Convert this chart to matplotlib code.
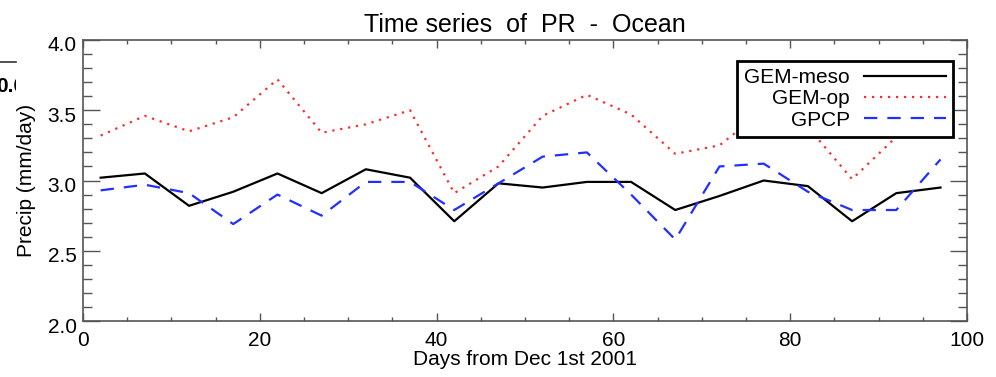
import numpy as np
import matplotlib
matplotlib.use("Agg")
import matplotlib.pyplot as plt
from matplotlib.transforms import ScaledTranslation
from matplotlib.patches import Rectangle
from matplotlib.lines import Line2D

plt.rcParams['font.family'] = ['Liberation Sans', 'DejaVu Sans']

# days from Dec 1st 2001 (5-day means)
days = [2, 7, 12, 17, 22, 27, 32, 37, 42, 47, 52, 57, 62, 67, 72, 77, 82, 87, 92, 97]

gem_meso = [3.02, 3.05, 2.82, 2.92, 3.05, 2.91, 3.08, 3.02, 2.71, 2.98,
            2.95, 2.99, 2.99, 2.79, 2.89, 3.00, 2.96, 2.71, 2.91, 2.95]
gem_op = [3.32, 3.46, 3.35, 3.45, 3.72, 3.34, 3.40, 3.50, 2.91, 3.10,
          3.46, 3.61, 3.47, 3.19, 3.25, 3.50, 3.38, 3.01, 3.31, 3.40]
gpcp = [2.93, 2.97, 2.91, 2.69, 2.90, 2.75, 2.99, 2.99, 2.79, 2.98,
        3.17, 3.20, 2.90, 2.58, 3.10, 3.12, 2.92, 2.79, 2.79, 3.15]

series_names = ["GEM-meso", "GEM-op", "GPCP"]

fig = plt.figure(figsize=(9.96, 3.77), dpi=100)
ax = fig.add_axes([0.0833, 0.1485, 0.8876, 0.7454])

ax.plot(days, gem_meso, color="black", lw=1.6, label=series_names[0])
ax.plot(days, gem_op, color="#ff2a2a", lw=1.6, linestyle=(0, (1, 2.6)), label=series_names[1])
ax.plot(days, gpcp, color="#2230ff", lw=1.6, linestyle=(0, (6, 4.5)), label=series_names[2])

ax.set_xlim(0, 100)
ax.set_ylim(2.0, 4.0)
ax.set_xticks(np.arange(0, 101, 20))
ax.set_xticks(np.arange(0, 101, 5), minor=True)
ax.set_yticks(np.arange(2.0, 4.01, 0.5))
ax.set_yticks(np.arange(2.0, 4.01, 0.1), minor=True)
ax.yaxis.set_major_formatter(matplotlib.ticker.FormatStrFormatter("%.1f"))

frame_col = "#555555"
for s in ax.spines.values():
    s.set_color(frame_col)
    s.set_linewidth(1.2)
ax.tick_params(axis="both", which="both", direction="in", top=True, right=True,
               color=frame_col, labelsize=15)
ax.tick_params(axis="x", which="major", length=6, width=1.0, pad=7)
ax.tick_params(axis="x", which="minor", length=3, width=1.0)
ax.tick_params(axis="y", which="major", length=12, width=1.0, pad=4.5)
ax.tick_params(axis="y", which="minor", length=6.5, width=1.0)

# IDL puts the y labels a little below the ticks
shift = ScaledTranslation(0, -4 / 100, fig.dpi_scale_trans)
for lab in ax.get_yticklabels():
    lab.set_transform(lab.get_transform() + shift)

ax.set_title("Time series  of  PR  -  Ocean", fontsize=18, pad=6)
ax.set_xlabel("Days from Dec 1st 2001", fontsize=15, labelpad=0)
ax.set_ylabel("Precip (mm/day)", fontsize=15, labelpad=8)

leg = ax.legend(loc="upper right", bbox_to_anchor=(0.984, 0.925), markerfirst=False,
                fontsize=15, handlelength=3.9, handletextpad=0.7, labelspacing=0.1,
                borderpad=0.35, borderaxespad=0, fancybox=False, framealpha=1)
leg.get_frame().set_edgecolor("black")
leg.get_frame().set_linewidth(2)

# cut-off bit of a neighbouring panel at the left edge
clip = Rectangle((0, 0), 16 / 996, 1, transform=fig.transFigure)
fig.add_artist(Line2D([0, 16 / 996], [1 - 62 / 377, 1 - 62 / 377], color="#333333", lw=1.2))
t = fig.text(-4 / 996, 1 - 87 / 377, "0.0", fontsize=15, fontweight="bold", va="center", ha="left")
t.set_clip_path(clip)

fig.savefig("out.png", dpi=100)
